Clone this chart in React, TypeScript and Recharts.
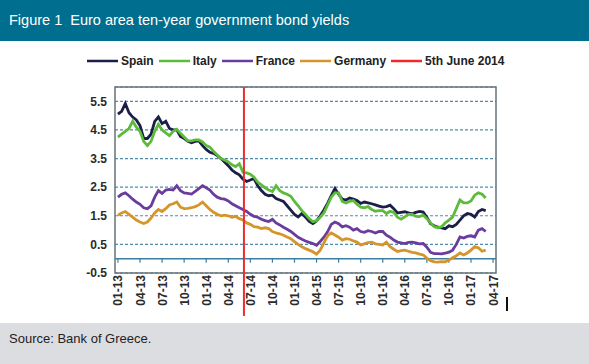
import React from 'react';
import { LineChart, Line, XAxis, YAxis, CartesianGrid, Legend, ReferenceLine, ReferenceArea } from 'recharts';

// half-month sampling grid, Jan 2013 .. Mar 2017 (0 = Jan 2013, in months)
const spain = [
  5.05, 5.15, 5.42, 5.1, 4.95, 4.85, 4.65, 4.2, 4.2, 4.35, 4.8, 4.95, 4.72, 4.8, 4.55, 4.5, 4.5, 4.27, 4.2, 4.1, 4.05, 4.1, 4.12, 3.95, 3.82, 3.72,
  3.68, 3.6, 3.5, 3.38, 3.25, 3.1, 3.0, 2.93, 2.78, 2.7, 2.75, 2.8, 2.55, 2.38, 2.25, 2.2, 2.22, 2.1, 2.05, 2.0, 1.85, 1.7, 1.55, 1.46,
  1.58, 1.45, 1.3, 1.23, 1.32, 1.5, 1.7, 1.93, 2.2, 2.45, 2.25, 2.08, 2.05, 2.12, 2.08, 2.03, 1.93, 1.98, 1.95, 1.92, 1.88, 1.84, 1.8, 1.82, 1.87, 1.75, 1.6,
  1.62, 1.64, 1.6, 1.57, 1.62, 1.65, 1.63, 1.45, 1.22, 1.15, 1.1, 1.08, 1.05, 1.15, 1.12, 1.2, 1.35, 1.5, 1.58, 1.55, 1.46, 1.65, 1.72, 1.68,
];
const italy = [
  4.25, 4.35, 4.45, 4.55, 4.8, 4.6, 4.45, 4.1, 3.95, 4.1, 4.45, 4.7, 4.5, 4.4, 4.3, 4.45, 4.52, 4.38, 4.25, 4.12, 4.12, 4.15, 4.15, 4.08, 3.95, 3.9,
  3.75, 3.62, 3.5, 3.45, 3.38, 3.28, 3.22, 3.32, 3.02, 3.0, 2.95, 2.85, 2.68, 2.58, 2.48, 2.4, 2.35, 2.55, 2.38, 2.3, 2.25, 2.18, 2.0, 1.85,
  1.68, 1.55, 1.4, 1.29, 1.33, 1.45, 1.6, 1.87, 2.15, 2.3, 2.3, 2.0, 1.95, 2.0, 2.03, 1.9, 1.8, 1.78, 1.82, 1.72, 1.66, 1.68, 1.68, 1.58, 1.66, 1.62, 1.45,
  1.38, 1.46, 1.55, 1.55, 1.48, 1.47, 1.52, 1.4, 1.25, 1.12, 1.08, 1.12, 1.25, 1.35, 1.45, 1.75, 2.05, 1.95, 1.95, 2.02, 2.22, 2.3, 2.25, 2.12,
];
const france = [
  2.15, 2.25, 2.3, 2.2, 2.08, 1.98, 1.9, 1.78, 1.75, 1.85, 2.15, 2.38, 2.28, 2.4, 2.42, 2.4, 2.55, 2.38, 2.3, 2.28, 2.26, 2.35, 2.45, 2.55, 2.48, 2.4,
  2.25, 2.15, 2.1, 2.08, 2.02, 1.92, 1.85, 1.78, 1.72, 1.65, 1.55, 1.48, 1.45, 1.38, 1.33, 1.3, 1.38, 1.25, 1.18, 1.1, 1.03, 0.95, 0.85, 0.75,
  0.68, 0.62, 0.57, 0.53, 0.47, 0.6, 0.75, 0.94, 1.2, 1.28, 1.22, 1.11, 1.15, 1.1, 1.0, 1.05, 0.95, 0.92, 0.98, 0.95, 0.9, 0.95, 0.95, 0.82, 0.75, 0.65, 0.58,
  0.55, 0.53, 0.57, 0.58, 0.55, 0.52, 0.53, 0.4, 0.22, 0.18, 0.18, 0.17, 0.19, 0.23, 0.3, 0.5, 0.76, 0.72, 0.78, 0.8, 0.76, 1.0, 1.05, 0.95,
];
const germany = [
  1.52, 1.6, 1.65, 1.55, 1.45, 1.35, 1.28, 1.23, 1.28, 1.42, 1.6, 1.72, 1.65, 1.75, 1.88, 1.92, 1.98, 1.8, 1.75, 1.76, 1.78, 1.82, 1.88, 1.98, 1.85, 1.72,
  1.62, 1.55, 1.5, 1.52, 1.5, 1.45, 1.48, 1.4, 1.35, 1.25, 1.2, 1.12, 1.1, 1.05, 1.08, 1.05, 0.95, 0.9, 0.87, 0.82, 0.76, 0.7, 0.6, 0.5,
  0.42, 0.35, 0.3, 0.24, 0.16, 0.3, 0.55, 0.8, 0.9, 0.83, 0.75, 0.65, 0.7, 0.68, 0.62, 0.58, 0.48, 0.52, 0.56, 0.58, 0.52, 0.5, 0.48, 0.58, 0.42, 0.33, 0.25,
  0.28, 0.3, 0.26, 0.22, 0.2, 0.16, 0.13, 0.02, -0.07, -0.11, -0.12, -0.1, -0.11, -0.05, 0.03, 0.1, 0.2, 0.13, 0.2, 0.3, 0.42, 0.38, 0.26, 0.3,
];

const tickMonths = [0, 3, 6, 9, 12, 15, 18, 21, 24, 27, 30, 33, 36, 39, 42, 45, 48, 51];
const tickLabels = ['01-13', '04-13', '07-13', '10-13', '01-14', '04-14', '07-14', '10-14', '01-15', '04-15', '07-15', '10-15', '01-16', '04-16', '07-16', '10-16', '01-17', '04-17'];
const yTicks = [-0.5, 0.5, 1.5, 2.5, 3.5, 4.5, 5.5];
const juneFifth2014 = 17.13;

const legendItems = [
  { name: 'Spain', color: '#1b1e48' },
  { name: 'Italy', color: '#5dbb3c' },
  { name: 'France', color: '#6a3c9c' },
  { name: 'Germany', color: '#d5952c' },
  { name: '5th June 2014', color: '#ee2a2e' },
];

const data = spain.map((v, i) => ({
  m: i * 0.5,
  spain: v,
  italy: italy[i],
  france: france[i],
  germany: germany[i],
}));

const FONT = '"Liberation Sans", Arial, sans-serif';

const XTick = (props: any) => {
  const { x, y, payload } = props;
  const idx = tickMonths.indexOf(payload.value);
  return (
    <g transform={`translate(${x + 4.5},${y})`}>
      <text transform="rotate(-90)" textAnchor="end" fontSize={12} fontWeight="bold" fill="#2a2a2a" fontFamily={FONT}>
        {tickLabels[idx]}
      </text>
    </g>
  );
};

const renderLegend = () => (
  <div style={{ display: 'flex', alignItems: 'center', paddingLeft: 87, fontFamily: FONT, fontSize: 12, fontWeight: 'bold', color: '#222' }}>
    {legendItems.map(it => (
      <div key={it.name} style={{ display: 'flex', alignItems: 'center', marginRight: 5 }}>
        <svg width={31} height={4} style={{ marginRight: 3 }}>
          <line x1={0} y1={2} x2={31} y2={2} stroke={it.color} strokeWidth={2.5} />
        </svg>
        <span>{it.name}</span>
      </div>
    ))}
  </div>
);

export default function App() {
  return (
    <div style={{ position: 'fixed', top: 0, left: 0, width: 589, height: 364, background: '#fff', overflow: 'hidden', fontFamily: FONT }}>
      <div style={{ height: 41, background: '#006f8f', color: '#fff', fontSize: 14.5, lineHeight: '41px', paddingLeft: 9 }}>
        Figure 1&nbsp;&nbsp;Euro area ten-year government bond yields
      </div>
      <LineChart width={589} height={282} data={data} margin={{ top: 46, right: 93, bottom: 0, left: 0 }}>
        <CartesianGrid vertical={false} stroke="#4f8cab" strokeDasharray="3 2" strokeWidth={1.2} />
        <XAxis
          dataKey="m"
          type="number"
          domain={[-0.4, 51.4]}
          ticks={tickMonths}
          interval={0}
          allowDataOverflow
          height={50}
          axisLine={false}
          tickLine={false}
          tickSize={0}
          tickMargin={2}
          tick={<XTick />}
        />
        <YAxis
          type="number"
          domain={[-0.5, 6]}
          ticks={yTicks}
          interval={0}
          allowDataOverflow
          width={115}
          axisLine={false}
          tickLine={false}
          tickSize={0}
          tickMargin={8}
          tick={{ fontSize: 12, fontWeight: 'bold', fill: '#2a2a2a', fontFamily: FONT }}
        />
        <ReferenceArea x1={-0.4} x2={51.4} y1={-0.5} y2={6} fill="none" stroke="#66747a" strokeWidth={1.5} />
        <ReferenceLine y={0} stroke="#3d7e9e" strokeWidth={1.5} />
        {tickMonths.map(t => (
          <ReferenceLine key={t} segment={[{ x: t, y: 0 }, { x: t, y: -0.14 }]} stroke="#3d7e9e" strokeWidth={1.2} />
        ))}
        <Line dataKey="spain" stroke={legendItems[0].color} strokeWidth={2.8} dot={false} isAnimationActive={false} />
        <Line dataKey="italy" stroke={legendItems[1].color} strokeWidth={2.8} dot={false} isAnimationActive={false} />
        <Line dataKey="france" stroke={legendItems[2].color} strokeWidth={2.8} dot={false} isAnimationActive={false} />
        <Line dataKey="germany" stroke={legendItems[3].color} strokeWidth={2.8} dot={false} isAnimationActive={false} />
        <ReferenceLine
          segment={[{ x: juneFifth2014, y: -2.0 }, { x: juneFifth2014, y: 6 }]}
          stroke={legendItems[4].color}
          strokeWidth={2}
          ifOverflow="visible"
        />
        <Legend verticalAlign="middle" content={renderLegend} wrapperStyle={{ top: 13, left: 0, width: 589 }} />
      </LineChart>
      <div style={{ position: 'absolute', left: 506, top: 297, width: 2, height: 14, background: '#111' }} />
      <div style={{ position: 'absolute', left: 0, top: 323, width: 589, height: 41, background: '#dcdde0', color: '#222', fontSize: 13, paddingLeft: 9, paddingTop: 8, boxSizing: 'border-box' }}>
        Source: Bank of Greece.
      </div>
    </div>
  );
}
